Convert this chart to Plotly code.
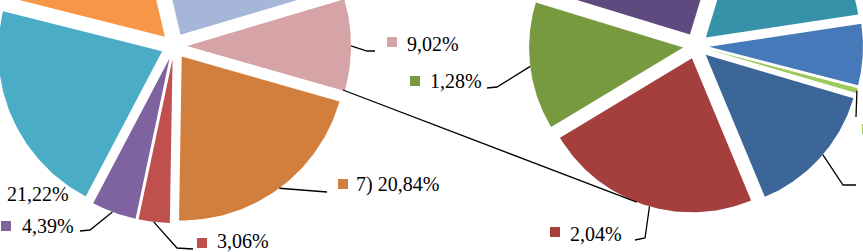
import numpy as np
import plotly.graph_objects as go

# ---------------- data ----------------
left_values = [24.07, 9.02, 20.84, 3.06, 4.39, 21.22, 17.40]
left_colors = ["#A6B6D8", "#D6A3A6", "#D27E3C", "#C0504D", "#7F63A1", "#4BACC6", "#F79646"]
left_labels = [None, "9,02%", "7) 20,84%", "3,06%", "4,39%", "21,22%", None]

right_values = [17.9, 6.4, 0.55, 14.15, 22.65, 13.35, 25.0]
right_colors = ["#3592A8", "#4679B9", "#9BC95A", "#3C6598", "#A43F3E", "#789A3F", "#5F4A80"]
right_labels = [None, None, None, None, "2,04%", "1,28%", None]

# ---------------- layout / geometry ----------------
W, H = 863, 252
PIES = {
    "left": dict(center=(174, 46), r=164, explode=13, start=346.8),
    "right": dict(center=(696, 46), r=154, explode=13, start=17.0),
}
# leaders: slice index -> (angle on arc, elbow points, marker pos, text pos)
LEFT_LEAD = {
    1: dict(ang=90, path=[(367, 51), (375, 51)], mk=(392, 42), tx=(405, 44)),
    2: dict(ang=143.5, path=[(327, 192)], mk=(343, 184), tx=(354, 184)),
    3: dict(ang=186.6, path=[(177, 248), (193, 249)], mk=(202, 243), tx=(215, 241)),
    4: dict(ang=200.4, path=[(90, 230), (80, 231)], mk=(6, 226), tx=(20, 226)),
    5: dict(ang=None, path=None, mk=None, tx=(5, 194)),
}
RIGHT_LEAD = {
    4: dict(ang=196, path=[(645, 238), (635, 240)], mk=(555, 232), tx=(568, 234)),
    5: dict(ang=263, path=[(497, 87), (487, 88)], mk=(415, 81), tx=(428, 81)),
    3: dict(ang=130.5, path=[(843, 185), (856, 185)], mk=None, tx=None),
    2: dict(ang=105.5, path=[(856, 117)], mk=(867, 129), tx=None),
}
EXTRA_LEAD = [("right", 4, 201, [(343, 90)])]


def unit(a):
    t = np.radians(a)
    return np.sin(t), -np.cos(t)


def slice_geom(values, cfg):
    vals = np.asarray(values, float)
    spans = vals / vals.sum() * 360.0
    starts = cfg["start"] + np.concatenate([[0], np.cumsum(spans)[:-1]])
    out = []
    for a0, sp in zip(starts, spans):
        mid = a0 + sp / 2
        ux, uy = unit(mid)
        apex = (cfg["center"][0] + cfg["explode"] * ux, cfg["center"][1] + cfg["explode"] * uy)
        out.append(dict(a0=a0, a1=a0 + sp, apex=apex))
    return out


def arc_point(g, r, a):
    ux, uy = unit(a)
    return g["apex"][0] + r * ux, g["apex"][1] + r * uy


fig = go.Figure()
geoms = {}
for key, values, colors in [("left", left_values, left_colors), ("right", right_values, right_colors)]:
    cfg = PIES[key]
    gs = slice_geom(values, cfg)
    geoms[key] = gs
    for g, c in zip(gs, colors):
        th = np.linspace(g["a0"], g["a1"], 80)
        xs = [g["apex"][0]] + [arc_point(g, cfg["r"], t)[0] for t in th] + [g["apex"][0]]
        ys = [g["apex"][1]] + [arc_point(g, cfg["r"], t)[1] for t in th] + [g["apex"][1]]
        fig.add_trace(go.Scatter(x=xs, y=ys, mode="lines", fill="toself", fillcolor=c,
                                 line=dict(width=0, color=c), hoverinfo="skip", showlegend=False))

annotations = []


def add_leaders(key, leads, labels, colors):
    cfg = PIES[key]
    for idx, L in leads.items():
        g = geoms[key][idx]
        if L["ang"] is not None:
            p0 = arc_point(g, cfg["r"], L["ang"])
            pts = [p0] + L["path"]
            fig.add_trace(go.Scatter(x=[p[0] for p in pts], y=[p[1] for p in pts], mode="lines",
                                     line=dict(color="black", width=1.3), hoverinfo="skip",
                                     showlegend=False))
        if L["mk"] is not None:
            fig.add_trace(go.Scatter(x=[L["mk"][0]], y=[L["mk"][1]], mode="markers",
                                     marker=dict(symbol="square", size=10, color=colors[idx]),
                                     hoverinfo="skip", showlegend=False))
        if L["tx"] is not None and labels[idx]:
            annotations.append(dict(x=L["tx"][0], y=L["tx"][1], text=labels[idx], showarrow=False,
                                    xanchor="left", yanchor="middle", xref="x", yref="y",
                                    font=dict(family="Liberation Serif", size=20, color="black")))


add_leaders("left", LEFT_LEAD, left_labels, left_colors)
add_leaders("right", RIGHT_LEAD, right_labels, right_colors)
for key, idx, ang, path in EXTRA_LEAD:
    p0 = arc_point(geoms[key][idx], PIES[key]["r"], ang)
    pts = [p0] + path
    fig.add_trace(go.Scatter(x=[p[0] for p in pts], y=[p[1] for p in pts], mode="lines",
                             line=dict(color="black", width=1.3), hoverinfo="skip", showlegend=False))

fig.update_layout(
    width=W, height=H, margin=dict(l=0, r=0, t=0, b=0),
    paper_bgcolor="white", plot_bgcolor="white",
    xaxis=dict(range=[0, W], visible=False, fixedrange=True),
    yaxis=dict(range=[H, 0], visible=False, fixedrange=True),
    annotations=annotations, showlegend=False,
)
fig.write_html("out.html", config={"displayModeBar": False},
               post_script="document.body.style.margin='0';document.body.style.overflow='hidden';")
